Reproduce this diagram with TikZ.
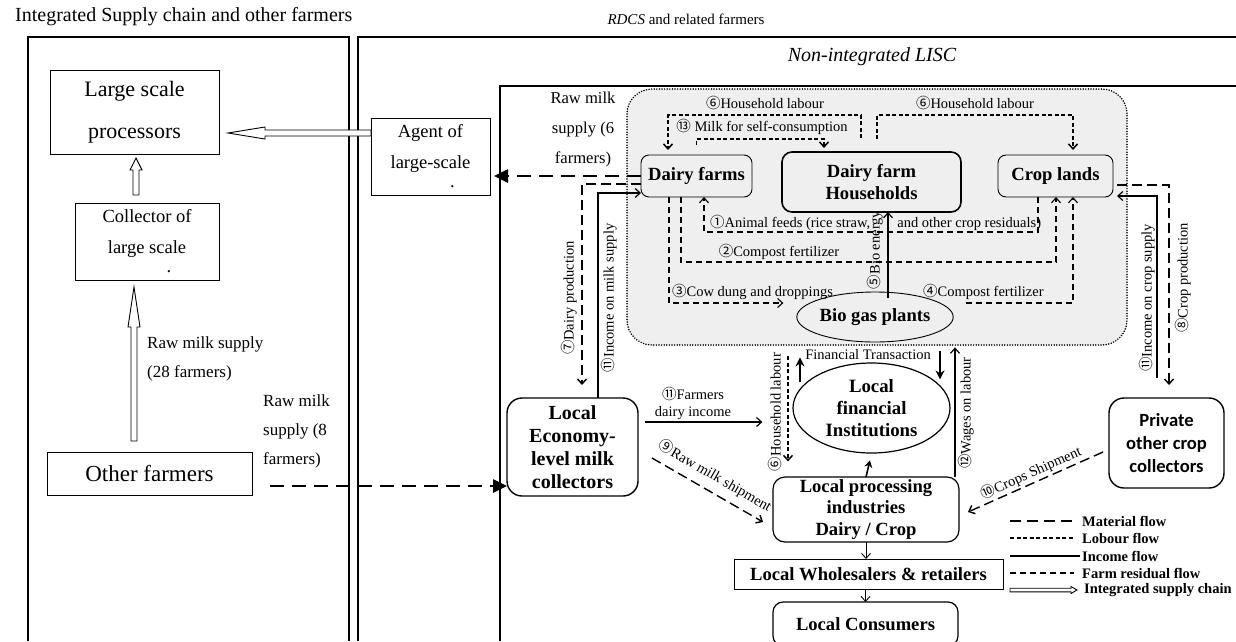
\documentclass[tikz,border=0pt]{standalone}
\usepackage{fontspec}
\setmainfont{Liberation Serif}
\newfontfamily\crlfont{Carlito}
\newfontfamily\cjkfont{Noto Sans CJK SC}
\usetikzlibrary{arrows.meta,calc,shapes.geometric}
\definecolor{regionfill}{HTML}{EFEFEF}
\newcommand{\fsz}[2]{\fontsize{#1}{#2}\selectfont}
\newcommand{\cn}[1]{{\cjkfont #1}}
% hollow block arrow: tail, tip, head length, head half width, shaft half width
\newcommand{\holarrow}[5]{%
  \draw[line width=0.9pt, fill=white, line join=miter]
    ($(#1)!#5!90:(#2)$)
    -- ($(#2)!#3!(#1)!#5!90:(#2)$)
    -- ($(#2)!#3!(#1)!#4!90:(#2)$)
    -- (#2)
    -- ($(#2)!#3!(#1)!#4!-90:(#2)$)
    -- ($(#2)!#3!(#1)!#5!-90:(#2)$)
    -- ($(#1)!#5!-90:(#2)$)
    -- cycle;}
\begin{document}
\begin{tikzpicture}[x=1pt,y=-1pt,
  panel/.style={line width=1.4pt},
  box/.style={draw, line width=0.9pt, align=center, inner sep=0pt, outer sep=0pt},
  rbox/.style={box, rounded corners=#1},
  rbox/.default=8pt,
  boldtext/.style={font=\bfseries\fsz{18.6}{22}},
  lbl/.style={font=\fsz{14.5}{17}, inner sep=0pt},
  legtext/.style={font=\bfseries\fsz{14.5}{17}, inner sep=0pt, anchor=west},
  material/.style={line width=1.4pt, dash pattern=on 10pt off 5pt},
  heavymat/.style={line width=2.6pt, dash pattern=on 14pt off 8pt},
  labour/.style={line width=1.5pt, dash pattern=on 4pt off 2.5pt},
  residual/.style={line width=1.1pt, dash pattern=on 6pt off 4pt},
  income/.style={line width=1.2pt},
  barb/.style={-{Straight Barb[length=5pt,width=9pt]}},
  heavytip/.style={-{Triangle[length=14pt,width=13pt]}},
  fintip/.style={line width=2pt, -{Stealth[length=9pt,width=9pt]}},
]
\useasboundingbox (0,0) rectangle (1236,641);

% ---------- panels and titles ----------
\draw[panel] (28,641) -- (28,37) -- (349,37) -- (349,641);
\draw[panel] (358,641) -- (358,37) -- (1236,37);
\draw[line width=1.2pt] (500,641) -- (500,86) -- (1236,86);
\node[anchor=west, font=\fsz{20}{24}, inner sep=0pt] (ttlA) at (15,17) {Integrated Supply chain and other farmers};
\node[font=\fsz{15}{18}, inner sep=0pt] (ttlB) at (686,19) {\textit{RDCS} and related farmers};
\node[font=\itshape\fsz{20}{24}, inner sep=0pt] (ttlC) at (872,57) {Non-integrated LISC};

% ---------- farm household region ----------
\draw[line width=1.7pt, line cap=round, dash pattern=on 0pt off 2.6pt, fill=regionfill, rounded corners=25pt]
  (627,89) rectangle (1127,345);

% ---------- integrated chain ----------
\node[box, minimum width=169pt, minimum height=84pt, font=\fsz{22}{42}] (lsp) at (134.5,112) {Large scale\\processors};
\node[box, minimum width=144pt, minimum height=77pt, font=\fsz{18.5}{31}] (col) at (147,241.5) {Collector of\\large scale\\[-12pt]\hspace*{44pt}.};
\node[box, minimum width=119pt, minimum height=77pt, font=\fsz{18.5}{31}] (agent) at (430.5,156.5) {Agent of\\large-scale\\[-12pt]\hspace*{44pt}.};
\node[box, minimum width=205pt, minimum height=43pt, font=\fsz{23}{27}] (oth) at (149.5,473.5) {Other farmers};

% ---------- farm units ----------
\node[rbox, minimum width=111pt, minimum height=42pt, boldtext] (df) at (696.5,176) {Dairy farms};
\node[rbox=10pt, line width=1.6pt, minimum width=179pt, minimum height=60pt, boldtext] (dfh) at (871.5,182) {Dairy farm\\Households};
\node[rbox, minimum width=115pt, minimum height=42pt, boldtext] (cl) at (1055.5,176) {Crop lands};
\node[ellipse, draw, line width=0.9pt, minimum width=150pt, minimum height=50pt, inner sep=0pt, boldtext] (bg) at (875,317) {Bio gas plants};

% ---------- local economy ----------
\node[ellipse, draw, line width=1.2pt, minimum width=157pt, minimum height=90pt, inner sep=0pt, align=center, font=\bfseries\fsz{18.8}{22}] (lfi) at (871.5,408) {Local\\financial\\Institutions};
\node[rbox=15pt, line width=1.4pt, minimum width=131pt, minimum height=98pt, font=\bfseries\fsz{20}{23}] (lec) at (572.5,447) {Local\\Economy-\\level milk\\collectors};
\node[rbox=15pt, line width=1.4pt, minimum width=115pt, minimum height=90pt, font=\crlfont\bfseries\fsz{18.6}{23}] (poc) at (1166.5,443) {Private\\other crop\\collectors};
\node[rbox=12pt, line width=1.2pt, minimum width=186pt, minimum height=65pt, font=\bfseries\fsz{18.6}{21.5}] (lpi) at (866,509.5) {Local processing\\industries\\Dairy / Crop};
\node[box, line width=0.8pt, minimum width=269pt, minimum height=30pt, boldtext] (lwr) at (868.5,574) {Local Wholesalers \& retailers};
\node[rbox=10pt, line width=1.2pt, minimum width=185pt, minimum height=44pt, boldtext] (lc) at (865.5,624) {Local Consumers};

% ---------- integrated supply chain arrows ----------
\coordinate (aT) at ([yshift=-15pt]agent.north west);
\coordinate (aH) at ([xshift=9pt,yshift=-21pt]lsp.east);
\holarrow{aT}{aH}{37pt}{6pt}{3pt}
\coordinate (cT) at ([xshift=-11pt,yshift=8pt]col.north);
\coordinate (cH) at ([xshift=1.5pt,yshift=-4pt]lsp.south);
\holarrow{cT}{cH}{12pt}{6pt}{3pt}
\coordinate (oT) at ([xshift=-15.5pt,yshift=11pt]oth.north);
\coordinate (oH) at ([xshift=-13pt,yshift=-7pt]col.south);
\holarrow{oT}{oH}{40pt}{6pt}{3pt}

\node[anchor=west, align=left, font=\fsz{17}{28.5}, inner sep=0pt] (rm28) at (147,359) {Raw milk supply\\(28 farmers)};
\node[anchor=west, align=left, font=\fsz{17}{29}, inner sep=0pt] (rm8) at (263,431) {Raw milk\\supply (8\\farmers)};
\node[align=center, font=\fsz{16.6}{30}, inner sep=0pt] (rm6) at (583,130) {Raw milk\\supply (6\\farmers)};

% ---------- raw milk deliveries ----------
\draw[heavymat, heavytip] (df.west) -- ([xshift=4pt,yshift=-19.5pt]agent.east);
\draw[heavymat, heavytip] ([xshift=18pt,yshift=-12.5pt]oth.east) -- ([yshift=-39pt]lec.west);

% ---------- dairy production / income ----------
\draw[material, barb] ([yshift=-8pt]df.west) -| ([xshift=9.5pt,yshift=13pt]lec.north);
\draw[income, barb] ([xshift=25.5pt]lec.north) |- ([yshift=-17pt]df.west);
\node[lbl, rotate=90] (l7) at (569,298) {\cn{⑦}Dairy production};
\node[lbl, rotate=90] (l11a) at (609,298) {\cn{⑪}Income on milk supply};

% ---------- household labour and self consumption ----------
\draw[labour, barb] ([xshift=-10.5pt,yshift=14pt]dfh.north) -- ++(0,-23) -| ([xshift=-28.5pt,yshift=5pt]df.north);
\draw[labour, barb] ([yshift=10pt]df.north) -- ++(0,-6) -| ([xshift=-47.5pt,yshift=4pt]dfh.north);
\draw[labour, barb] ([xshift=5.5pt,yshift=13pt]dfh.north) -- ++(0,-24) -| ([xshift=17.5pt,yshift=5pt]cl.north);
\node[lbl] (l6a) at (765,103) {\cn{⑥}Household labour};
\node[lbl] (l13) at (762,127) {\cn{⑬} Milk for self-consumption};
\node[lbl] (l6b) at (975,103) {\cn{⑥}Household labour};

% ---------- residual flows ----------
\draw[residual, barb] ([xshift=-17.5pt]cl.south) -- ++(0,35) -| ([xshift=7.5pt]df.south);
\draw[residual, barb] ([xshift=-15.5pt]df.south) -- ++(0,65) -| ([xshift=0.5pt]cl.south);
\draw[residual, barb] ([xshift=-27.5pt]df.south) |- ([xshift=-13pt,yshift=14pt]bg.west);
\draw[residual, barb] ([xshift=12pt,yshift=14pt]bg.east) -| ([xshift=17.5pt]cl.south);
\draw[income, barb] ([xshift=13pt,yshift=-6pt]bg.north) -- ([xshift=16.5pt]dfh.south);
\node[lbl, anchor=west] (l1) at (710,223) {\cn{①}Animal feeds (rice straw,\hspace*{27pt}and other crop residuals)};
\node[lbl] (l2) at (779,252) {\cn{②}Compost fertilizer};
\node[lbl, anchor=west] (l3) at (672,292) {\cn{③}Cow dung and droppings};
\node[lbl, anchor=west] (l4) at (923,292) {\cn{④}Compost fertilizer};
\node[lbl, rotate=90] (l5) at (875,250) {\cn{⑤}Bio energy};

% ---------- crop side ----------
\draw[material, barb] ([xshift=4pt,yshift=-9pt]cl.east) -| ([xshift=2.5pt,yshift=13pt]poc.north);
\draw[income, barb] ([xshift=-9.5pt,yshift=20pt]poc.north) |- ([xshift=4pt,yshift=-20pt]cl.east);
\node[lbl, rotate=90] (l8) at (1183,278) {\cn{⑧}Crop production};
\node[lbl, rotate=90] (l11c) at (1147,298) {\cn{⑪}Income on crop supply};

% ---------- financial flows ----------
\draw[fintip] ([xshift=-71.5pt,yshift=-20pt]lfi.north) -- ([xshift=-71.5pt,yshift=5pt]lfi.north);
\draw[fintip] ([xshift=68.5pt,yshift=11pt]lfi.north) -- ([xshift=68.5pt,yshift=-17pt]lfi.north);
\node[lbl] (lft) at (868,355) {Financial Transaction};
\draw[labour, barb] ([xshift=-83.5pt,yshift=6pt]lfi.north) -- ([xshift=-83.5pt,yshift=-99pt]lfi.north);
\node[lbl, rotate=90] (l6c) at (775,412) {\cn{⑥}Household labour};
\draw[income, barb] ([xshift=89pt]lpi.north) -- ([xshift=83.5pt,yshift=15pt]lfi.north);
\node[lbl, rotate=90] (l12) at (966,413) {\cn{⑫}Wages on labour};
\draw[line width=1.6pt, -{Stealth[length=7pt,width=8pt]}, shorten >=7pt] (lpi.north) -- (lfi.south);
\draw[income, barb] ([xshift=7pt,yshift=25pt]lec.east) -- ([xshift=-30pt,yshift=-14pt]lfi.west);
\node[lbl, align=center] (l11b) at (693,403) {\cn{⑪}Farmers\\dairy income};

% ---------- shipments ----------
\draw[material, barb] ([xshift=14pt,yshift=-11pt]lec.east) -- ([xshift=-10pt,yshift=-12.5pt]lpi.west);
\node[lbl, rotate=-30] (l9) at (715,476) {\cn{⑨}Raw milk shipment};
\draw[material, barb] ([xshift=-6pt,yshift=-9pt]poc.west) -- ([xshift=9pt,yshift=-2.5pt]lpi.east);
\node[lbl, rotate=24] (l10) at (1031,473) {\cn{⑩}Crops Shipment};

% ---------- distribution ----------
\draw[line width=0.9pt, barb] (lpi.south) -- (lpi.south |- lwr.north);
\draw[line width=0.9pt, barb] (lwr.south -| lc.north) -- (lc.north);

% ---------- legend ----------
\node[legtext] (lg1) at (1082,521) {Material flow};
\node[legtext] (lg2) at (1082,538) {Lobour flow};
\node[legtext] (lg3) at (1082,556) {Income flow};
\node[legtext] (lg4) at (1082,573) {Farm residual flow};
\node[legtext] (lg5) at (1084,590) {Integrated supply chain};
\draw[line width=1.5pt, dash pattern=on 11pt off 6pt] ([xshift=-72pt]lg1.west) -- ([xshift=-8pt]lg1.west);
\draw[labour] ([xshift=-72pt]lg2.west) -- ([xshift=-8pt]lg2.west);
\draw[income] ([xshift=-72pt]lg3.west) -- ([xshift=-2pt]lg3.west);
\draw[residual] ([xshift=-72pt]lg4.west) -- ([xshift=-8pt]lg4.west);
\coordinate (gT) at ([xshift=-74pt]lg5.west);
\coordinate (gH) at ([xshift=-7pt]lg5.west);
\holarrow{gT}{gH}{6pt}{3.5pt}{1.8pt}
\end{tikzpicture}
\end{document}
